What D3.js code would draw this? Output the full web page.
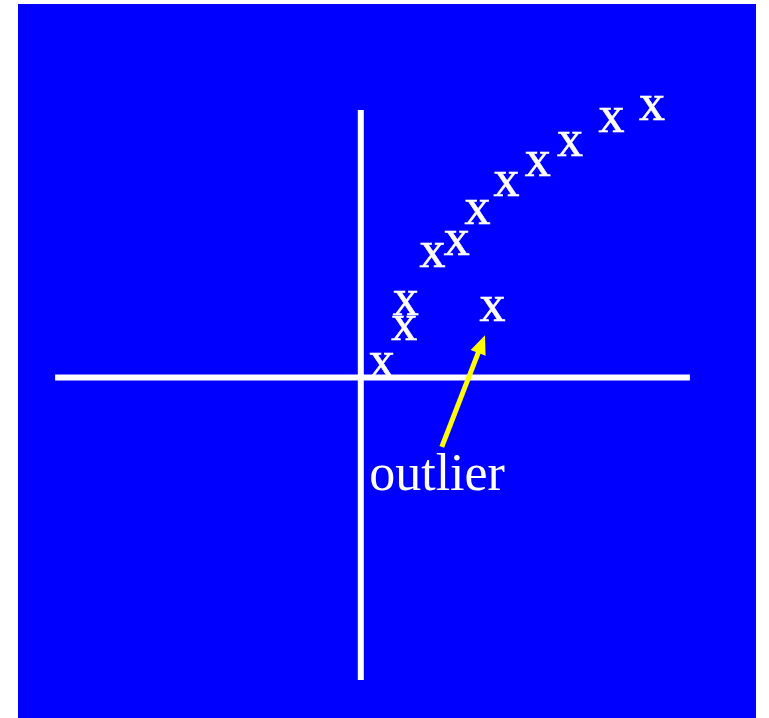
<!DOCTYPE html>
<html>
<head>
<meta charset="utf-8">
<script src="https://cdn.jsdelivr.net/npm/d3@7"></script>
<style>
  html, body { margin: 0; padding: 0; background: #ffffff; }
  svg { display: block; }
</style>
</head>
<body>
<script>
// Data (arbitrary units, origin at the axes crossing)
const pointX = [0.70, 1.45, 1.50, 2.39, 3.20, 3.89, 4.86, 5.90, 6.97, 8.36, 9.71];
const pointY = [0.42, 1.65, 2.47, 4.08, 4.46, 5.51, 6.43, 7.09, 7.76, 8.58, 8.98];
const outlierX = [4.39];
const outlierY = [2.26];
const markerLabel = "x";
const outlierLabel = "outlier";
const arrowFrom = [2.70, -2.31];
const arrowTo = [4.14, 1.41];
const labelPos = [0.28, -3.75];
const xAxisExtent = [-10.19, 10.97];
const yAxisExtent = [-10.08, 8.92];

const W = 769, H = 718;
const svg = d3.select("body").append("svg").attr("width", W).attr("height", H);

svg.append("rect").attr("x", 18).attr("y", 4).attr("width", 738).attr("height", 714).attr("fill", "#0000ff");

const x = d3.scaleLinear().domain([0, 10]).range([360.8, 660.8]);
const y = d3.scaleLinear().domain([0, 10]).range([377.5, 77.5]);

const fontSize = 52;
const xHalf = 11.6; // half x-height, to centre glyph on point

const pts = pointX.map((v, i) => ({x: v, y: pointY[i]}));
const outs = outlierX.map((v, i) => ({x: v, y: outlierY[i]}));

svg.append("g").selectAll("text").data(pts.concat(outs)).join("text")
  .attr("x", d => x(d.x))
  .attr("y", d => y(d.y) + xHalf)
  .attr("text-anchor", "middle")
  .attr("font-family", "'Liberation Serif', 'Times New Roman', serif")
  .attr("font-size", fontSize)
  .attr("fill", "#ffffff")
  .attr("stroke", "#ffffff")
  .attr("stroke-width", 0.6)
  .text(markerLabel);

// axes
svg.append("line")
  .attr("x1", x(xAxisExtent[0])).attr("x2", x(xAxisExtent[1]))
  .attr("y1", y(0)).attr("y2", y(0))
  .attr("stroke", "#ffffff").attr("stroke-width", 6);
svg.append("line")
  .attr("x1", x(0)).attr("x2", x(0))
  .attr("y1", y(yAxisExtent[0])).attr("y2", y(yAxisExtent[1]))
  .attr("stroke", "#ffffff").attr("stroke-width", 6);

// arrow
const x0 = x(arrowFrom[0]), y0 = y(arrowFrom[1]);
const x1 = x(arrowTo[0]), y1 = y(arrowTo[1]);
const ang = Math.atan2(y1 - y0, x1 - x0);
const headLen = 19, headW = 8;
const bx = x1 - headLen * Math.cos(ang), by = y1 - headLen * Math.sin(ang);
svg.append("line")
  .attr("x1", x0).attr("y1", y0).attr("x2", bx + 2 * Math.cos(ang)).attr("y2", by + 2 * Math.sin(ang))
  .attr("stroke", "#ffff00").attr("stroke-width", 5);
const px = -Math.sin(ang), py = Math.cos(ang);
svg.append("polygon")
  .attr("points", [[x1, y1], [bx + px * headW, by + py * headW], [bx - px * headW, by - py * headW]].map(p => p.join(",")).join(" "))
  .attr("fill", "#ffff00");

svg.append("text")
  .attr("x", x(labelPos[0])).attr("y", y(labelPos[1]))
  .attr("font-family", "'Liberation Serif', 'Times New Roman', serif")
  .attr("font-size", fontSize)
  .attr("fill", "#ffffff")
  .text(outlierLabel);
</script>
</body>
</html>
